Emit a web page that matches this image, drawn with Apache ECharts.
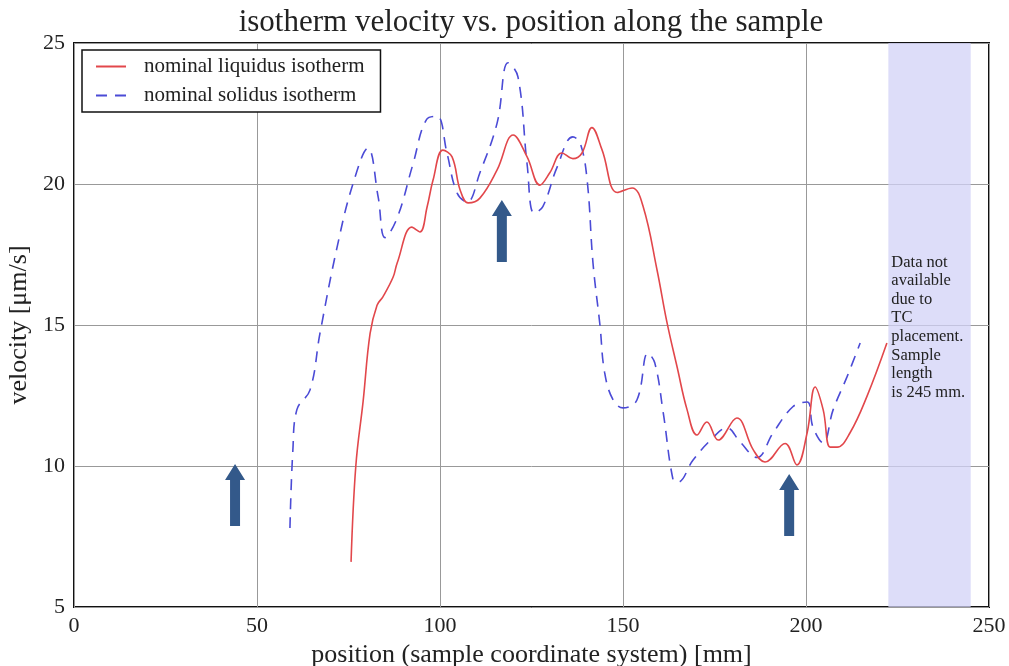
<!DOCTYPE html>
<html><head><meta charset="utf-8">
<script src="https://cdn.jsdelivr.net/npm/echarts@6/dist/echarts.min.js"></script>
<style>html,body{margin:0;padding:0;background:#fff}#c{width:1009px;height:666px}</style>
</head><body><div id="c"></div>
<script>
const titleText = 'isotherm velocity vs. position along the sample';
const xName = 'position (sample coordinate system) [mm]';
const yName = 'velocity [\u03bcm/s]';
const seriesNames = ['nominal liquidus isotherm', 'nominal solidus isotherm'];
const liquidus = [
  [75.7,6.6],[77.0,10.0],[79.0,12.3],[80.9,14.7],[82.8,15.7],[84.4,16.0],[87.2,16.7],[88.3,17.2],
  [92.3,18.47],[94.5,18.3],[96.5,19.2],[98.1,20.14],[100.8,21.2],[103.3,20.96],[105.5,19.79],[107.7,19.33],
  [110.9,19.5],[115.6,20.5],[120.0,21.74],[123.8,20.96],[127.3,19.96],[130.0,20.4],[133.3,21.1],
  [136.3,20.9],[138.8,21.1],[141.5,22.0],[144.3,21.2],[148.4,19.7],[152.5,19.86],[155.5,19.2],
  [159.3,16.95],[162.0,15.1],[164.8,13.5],[167.5,12.0],[170.2,11.1],[172.9,11.56],[176.0,10.92],
  [181.1,11.7],[185.6,10.57],[188.8,10.14],[194.3,10.8],[197.5,10.04],[200.3,11.17],[202.5,12.8],
  [204.7,11.99],[206.6,10.67],[208.5,10.67],[212.0,11.17],[216.6,12.45],[222.1,14.36]
];
const solidus = [
  [59.0,7.8],[59.8,10.57],[60.9,12.0],[64.5,12.7],[67.2,14.7],[71.9,17.77],[76.2,20.0],[80.3,21.27],
  [83.1,19.54],[85.0,18.1],[88.3,18.8],[92.6,20.7],[96.4,22.3],[99.2,22.4],[101.9,21.1],[104.6,19.7],
  [107.4,19.36],[110.9,20.4],[115.6,22.16],[118.6,24.3],[121.3,23.8],[123.8,20.7],[125.7,18.97],
  [128.1,19.2],[132.0,20.6],[136.3,21.67],[138.3,21.45],[140.2,20.14],[141.8,17.2],[143.7,15.0],
  [145.0,13.3],[147.3,12.34],[150.0,12.06],[153.8,12.34],[156.8,14.0],[158.7,13.65],[161.0,11.88],
  [163.7,9.5],[165.0,9.43],[169.1,10.2],[173.8,10.9],[178.4,11.35],[182.0,10.85],[186.6,10.3],
  [191.0,11.17],[196.4,12.1],[200.3,12.27],[201.9,11.38],[204.7,10.82],[207.4,11.99],[211.2,13.16],[214.8,14.36]
];
const shadedRange = [222.5, 245];
const noteText = 'Data not\navailable\ndue to\nTC\nplacement.\nSample\nlength\nis 245 mm.';
const arrowPoints = [[44.0, 8.97], [116.9, 18.33], [195.4, 8.62]];

const serif = '"Liberation Serif", "DejaVu Serif", serif';
const arrowPath = 'path://M10,0 L20,16 L15,16 L15,62 L5,62 L5,16 L0,16 Z';
const chart = echarts.init(document.getElementById('c'));
chart.setOption({
  animation: false,
  backgroundColor: '#fff',
  title: { text: titleText, left: 526, textAlign: 'center', top: 2,
    textStyle: { fontFamily: serif, fontSize: 31, fontWeight: 'normal', color: '#222' } },
  grid: { left: 74, right: 20, top: 43, bottom: 59, show: true, borderColor: '#111', borderWidth: 2,
    backgroundColor: 'transparent', containLabel: false, outerBoundsMode: 'none' },
  legend: {
    left: 82, top: 50, orient: 'vertical', itemGap: 8, itemWidth: 30, itemHeight: 14,
    padding: [6, 16, 6, 13], borderColor: '#111', borderWidth: 1.5, backgroundColor: '#fff',
    itemStyle: { opacity: 0 },
    textStyle: { fontFamily: serif, fontSize: 21, color: '#222', padding: [0, 0, 0, 13] },
    data: seriesNames
  },
  xAxis: { type: 'value', min: 0, max: 250, interval: 50,
    name: xName, nameLocation: 'middle', nameGap: 31,
    nameTextStyle: { fontFamily: serif, fontSize: 26, color: '#222' },
    axisLine: { show: false }, axisTick: { show: false },
    axisLabel: { fontFamily: serif, fontSize: 22, color: '#222', margin: 8 },
    splitLine: { lineStyle: { color: '#999', width: 1 } } },
  yAxis: { type: 'value', min: 5, max: 25, interval: 5,
    name: yName, nameLocation: 'middle', nameGap: 40, nameRotate: 90,
    nameTextStyle: { fontFamily: serif, fontSize: 26, color: '#222' },
    axisLine: { show: false }, axisTick: { show: false },
    axisLabel: { fontFamily: serif, fontSize: 22, color: '#222', margin: 9 },
    splitLine: { lineStyle: { color: '#999', width: 1 } } },
  series: [
    { name: seriesNames[0], type: 'line', data: liquidus, smooth: 0.4, symbol: 'none', z: 3,
      lineStyle: { color: '#e2474b', width: 1.6 }, itemStyle: { color: '#e2474b' },
      markArea: { silent: true, itemStyle: { color: 'rgba(210,210,247,0.75)' },
        label: { show: true, position: [3, 210], align: 'left', verticalAlign: 'top',
          formatter: noteText, fontFamily: serif, fontSize: 16.5, lineHeight: 18.6, color: '#222' },
        data: [[{ xAxis: shadedRange[0] }, { xAxis: shadedRange[1] }]] },
      markPoint: { silent: true, symbol: arrowPath, symbolSize: [20, 62], symbolKeepAspect: false,
        itemStyle: { color: '#33598a' }, label: { show: false },
        data: arrowPoints.map(p => ({ coord: p })) } },
    { name: seriesNames[1], type: 'line', data: solidus, smooth: 0.4, symbol: 'none', z: 2,
      lineStyle: { color: '#4b4bd6', width: 1.6, type: [11, 8] }, itemStyle: { color: '#4b4bd6' } }
  ]
});
</script></body></html>
